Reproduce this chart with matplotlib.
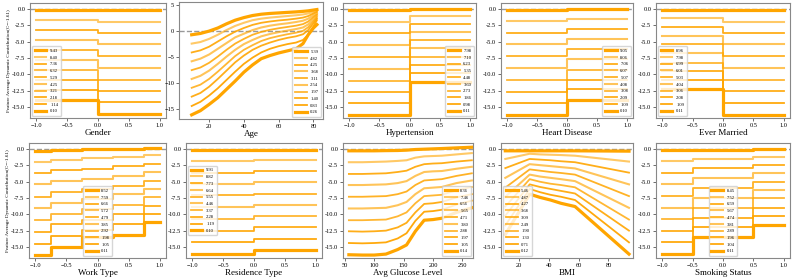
import matplotlib
matplotlib.use('Agg')
import matplotlib.pyplot as plt
from matplotlib.ticker import MultipleLocator, FormatStrFormatter

plt.rcParams['font.family'] = ['Liberation Serif', 'DejaVu Serif']

# ---------------- data ----------------
# step-type features: bin edges + one value per segment for each of 10 curves
gender_edges = [-1, 0, 1]
gender_lines = [[-0.1, -0.1], [-1.6, -1.9], [-3.2, -3.6], [-4.7, -5.4], [-6.3, -7.2],
                [-7.8, -9.0], [-9.3, -10.8], [-10.9, -12.5], [-12.4, -14.3], [-13.9, -16.1]]
gender_labels = ['9.43', '8.40', '7.36', '6.32', '5.29', '4.25', '3.21', '2.18', '1.14', '0.10']

age_x = [10, 15, 20, 25, 30, 35, 40, 45, 50, 55, 60, 65, 70, 74, 77, 80, 82]
age_lines = [
    [-0.8, -0.55, -0.1, 0.5, 1.3, 2.0, 2.5, 2.9, 3.15, 3.3, 3.4, 3.5, 3.6, 3.7, 3.8, 3.95, 4.05],
    [-2.5, -2.2, -1.6, -0.8, 0.1, 0.9, 1.5, 2.0, 2.3, 2.5, 2.65, 2.8, 2.95, 3.1, 3.3, 3.6, 3.8],
    [-4.2, -3.8, -3.1, -2.1, -1.1, -0.2, 0.5, 1.1, 1.5, 1.75, 1.95, 2.1, 2.3, 2.5, 2.8, 3.3, 3.6],
    [-5.9, -5.4, -4.6, -3.5, -2.4, -1.3, -0.6, 0.1, 0.6, 0.95, 1.2, 1.4, 1.65, 1.9, 2.3, 2.95, 3.35],
    [-7.6, -7.1, -6.2, -5.0, -3.7, -2.5, -1.6, -0.8, -0.25, 0.15, 0.45, 0.7, 0.95, 1.25, 1.75, 2.6, 3.1],
    [-9.3, -8.7, -7.7, -6.4, -5.0, -3.7, -2.6, -1.8, -1.1, -0.65, -0.3, 0.0, 0.3, 0.6, 1.2, 2.2, 2.85],
    [-11.0, -10.4, -9.3, -7.9, -6.4, -4.9, -3.7, -2.8, -2.0, -1.45, -1.05, -0.7, -0.4, -0.05, 0.65, 1.8, 2.6],
    [-12.7, -12.0, -10.8, -9.3, -7.7, -6.1, -4.8, -3.7, -2.9, -2.3, -1.8, -1.4, -1.1, -0.7, 0.1, 1.4, 2.3],
    [-14.5, -13.7, -12.5, -11.1, -9.5, -7.9, -6.4, -5.2, -4.2, -3.5, -3.0, -2.6, -2.3, -1.8, -0.8, 0.8, 2.0],
    [-16.2, -15.4, -14.2, -12.9, -11.3, -9.7, -8.0, -6.6, -5.4, -4.8, -4.3, -3.9, -3.5, -2.5, -0.8, 0.5, 1.15],
]
age_labels = ['5.39', '4.82', '4.25', '3.68', '3.11', '2.54', '1.97', '1.40', '0.83', '0.26']

hyper_edges = [-1, 0, 1]
hyper_lines = [[-0.2, 0.05], [-1.9, -1.0], [-3.7, -2.3], [-5.5, -3.5], [-7.3, -4.8],
               [-9.2, -6.0], [-11.0, -7.3], [-12.7, -8.5], [-14.4, -9.8], [-16.2, -11.1]]
hyper_labels = ['7.98', '7.10', '6.23', '5.35', '4.48', '3.60', '2.73', '1.86', '0.98', '0.11']

heart_edges = [-1, 0, 1]
heart_lines = [[-0.15, 0.1], [-1.8, -1.5], [-3.6, -3.0], [-5.4, -4.6], [-7.2, -6.1],
               [-9.0, -7.7], [-10.8, -9.3], [-12.7, -10.8], [-14.4, -12.3], [-16.2, -13.9]]
heart_labels = ['9.05', '8.06', '7.06', '6.07', '5.07', '4.08', '3.08', '2.09', '1.09', '0.10']

married_edges = [-1, 0, 1]
married_lines = [[-0.1, -0.2], [-1.4, -1.9], [-2.8, -3.6], [-4.1, -5.4], [-5.4, -7.2],
                 [-6.8, -9.0], [-8.2, -10.8], [-9.5, -12.6], [-10.8, -14.4], [-12.2, -16.2]]
married_labels = ['8.96', '7.98', '6.99', '6.01', '5.03', '4.04', '3.06', '2.08', '1.09', '0.11']

work_edges = [-1, -0.75, -0.25, 0.25, 0.75, 1]
work_lines = [
    [-0.25, -0.05, 0.0, 0.05, 0.2],
    [-1.9, -1.6, -1.4, -1.25, -0.9],
    [-3.6, -3.25, -3.0, -2.6, -2.2],
    [-5.4, -4.9, -4.55, -4.1, -3.5],
    [-7.3, -6.6, -6.1, -5.6, -4.9],
    [-9.1, -8.3, -7.7, -6.9, -6.1],
    [-10.9, -10.0, -9.25, -8.5, -7.4],
    [-12.65, -11.55, -10.8, -10.0, -8.7],
    [-14.5, -13.3, -12.4, -11.45, -10.0],
    [-16.25, -14.95, -13.5, -13.1, -11.1],
]
work_labels = ['8.52', '7.59', '6.66', '5.72', '4.79', '3.85', '2.92', '1.98', '1.05', '0.11']

resid_edges = [-1, 0, 1]
resid_lines = [[-0.1, -0.1], [-1.85, -1.65], [-3.6, -3.4], [-5.4, -5.1], [-7.1, -6.9],
               [-8.9, -8.6], [-10.7, -10.3], [-12.5, -12.0], [-14.3, -13.8], [-16.15, -15.5]]
resid_labels = ['9.91', '8.82', '7.73', '6.64', '5.55', '4.46', '3.37', '2.28', '1.19', '0.10']

gluc_x = [57, 80, 100, 120, 140, 155, 170, 185, 200, 215, 240, 266]
gluc_lines = [
    [-0.25, -0.25, -0.25, -0.22, -0.2, -0.15, -0.05, 0.0, 0.05, 0.1, 0.2, 0.3],
    [-2.0, -2.0, -1.95, -1.9, -1.8, -1.7, -1.3, -1.1, -1.05, -1.0, -0.8, -0.6],
    [-3.8, -3.8, -3.75, -3.7, -3.5, -3.3, -2.7, -2.3, -2.2, -2.15, -1.9, -1.7],
    [-5.5, -5.5, -5.45, -5.4, -5.2, -4.9, -4.1, -3.5, -3.4, -3.35, -3.0, -2.7],
    [-7.3, -7.3, -7.25, -7.2, -6.9, -6.5, -5.5, -4.8, -4.7, -4.6, -4.1, -3.7],
    [-9.1, -9.1, -9.05, -9.0, -8.6, -8.1, -6.9, -6.0, -5.9, -5.8, -5.2, -4.8],
    [-10.9, -10.9, -10.85, -10.8, -10.3, -9.7, -8.3, -7.2, -7.1, -7.0, -6.3, -5.8],
    [-12.6, -12.65, -12.6, -12.5, -12.0, -11.3, -9.7, -8.4, -8.3, -8.1, -7.4, -6.9],
    [-14.4, -14.45, -14.4, -14.3, -13.7, -12.9, -11.0, -9.6, -9.5, -9.3, -8.5, -7.9],
    [-16.2, -16.25, -16.25, -16.1, -15.4, -14.7, -12.6, -10.9, -10.8, -10.6, -9.7, -9.0],
]
gluc_labels = ['8.36', '7.46', '6.56', '5.65', '4.71', '3.80', '2.88', '1.97', '1.05', '0.14']

bmi_x = [10.6, 27, 34, 41, 48, 57.5, 93.8]
bmi_lines = [
    [-0.25, -0.25, -0.25, -0.25, -0.25, -0.25, -0.3],
    [-1.5, -0.7, -0.8, -0.85, -0.9, -1.0, -1.9],
    [-2.9, -1.5, -1.6, -1.7, -1.85, -2.0, -3.6],
    [-4.4, -2.3, -2.45, -2.6, -2.75, -2.95, -5.4],
    [-5.9, -3.1, -3.3, -3.5, -3.65, -3.9, -7.2],
    [-7.3, -3.9, -4.2, -4.4, -4.6, -4.9, -9.0],
    [-8.8, -4.6, -5.0, -5.3, -5.5, -5.85, -10.8],
    [-10.2, -5.4, -5.8, -6.1, -6.4, -6.8, -12.5],
    [-11.7, -6.1, -6.6, -7.0, -7.3, -7.8, -14.3],
    [-13.1, -6.9, -7.4, -7.8, -8.3, -8.8, -16.1],
]
bmi_labels = ['5.46', '4.87', '4.27', '3.68', '3.09', '2.49', '1.90', '1.30', '0.71', '0.12']

smoke_edges = [-1, -0.5, 0.5, 1]
smoke_lines = [
    [-0.15, -0.05, 0.1],
    [-1.8, -1.45, -1.15],
    [-3.6, -2.85, -2.45],
    [-5.4, -4.45, -3.7],
    [-7.15, -6.0, -5.05],
    [-8.95, -7.5, -6.3],
    [-10.75, -9.05, -7.55],
    [-12.5, -10.5, -8.95],
    [-14.3, -12.0, -10.2],
    [-16.1, -13.5, -11.6],
]
smoke_labels = ['8.45', '7.52', '6.59', '5.67', '4.74', '3.81', '2.89', '1.96', '1.04', '0.11']

# ---------------- styling ----------------
W, H = 793, 280
ORANGE = '#FFA500'
widths = [2.3, 1.5, 1.3, 1.5, 1.3, 1.5, 1.3, 1.3, 1.3, 2.3]
alphas = [1.0, 0.6, 0.9, 0.65, 0.85, 0.65, 0.8, 0.9, 0.95, 1.0]
ylab = 'Feature Average Dynamic Contribution(C=-1.61)'

fig = plt.figure(figsize=(W / 100, H / 100), dpi=100)


def make_ax(x0, x1, y0, y1):
    # pixel box -> figure fraction
    return fig.add_axes([x0 / W, 1 - y1 / H, (x1 - x0) / W, (y1 - y0) / H])


def style(ax, name, ylim, legend_loc, labels, first_col=False, int_y=False):
    ax.axhline(0, color='#999999', ls='--', lw=1.0, zorder=0)
    ax.set_ylim(*ylim)
    if int_y:
        ax.yaxis.set_major_locator(MultipleLocator(5))
    else:
        ax.yaxis.set_major_locator(MultipleLocator(2.5))
        ax.yaxis.set_major_formatter(FormatStrFormatter('%.1f'))
    ax.set_xlabel(name, fontsize=6.5, labelpad=1)
    if first_col:
        ax.set_ylabel(ylab, fontsize=3.7, labelpad=1)
    ax.tick_params(labelsize=4.6, length=2, width=0.5, pad=1.5, color='#333333')
    for s in ax.spines.values():
        s.set_color('#888888')
        s.set_linewidth(0.8)
    ax.legend(labels, loc=legend_loc, fontsize=3.3, handlelength=2.6,
              labelspacing=0.55, borderpad=0.5, handletextpad=0.8,
              framealpha=0.8, edgecolor='#cccccc', fancybox=True)


def draw_steps(ax, edges, lines):
    for i, vals in enumerate(lines):
        ax.plot(edges, list(vals) + [vals[-1]], drawstyle='steps-post',
                color=ORANGE, lw=widths[i], alpha=alphas[i])


def draw_curves(ax, xs, lines):
    for i, vals in enumerate(lines):
        ax.plot(xs, vals, color=ORANGE, lw=widths[i], alpha=alphas[i])


YL = (-16.7, 0.95)

# top row
ax = make_ax(30, 166, 3, 118)
draw_steps(ax, gender_edges, gender_lines)
ax.set_xlim(-1.1, 1.1)
style(ax, 'Gender', YL, 'lower left', gender_labels, first_col=True)

ax = make_ax(179, 323, 2, 119)
draw_curves(ax, age_x, age_lines)
ax.set_xlim(2.7, 85.5)
ax.xaxis.set_major_locator(MultipleLocator(20))
style(ax, 'Age', (-17.0, 5.5), 'lower right', age_labels, int_y=True)

ax = make_ax(343, 476, 3, 118)
draw_steps(ax, hyper_edges, hyper_lines)
ax.set_xlim(-1.1, 1.1)
style(ax, 'Hypertension', YL, 'lower right', hyper_labels)

ax = make_ax(501, 633, 3, 118)
draw_steps(ax, heart_edges, heart_lines)
ax.set_xlim(-1.1, 1.1)
style(ax, 'Heart Disease', YL, 'lower right', heart_labels)

ax = make_ax(656, 790, 3, 118)
draw_steps(ax, married_edges, married_lines)
ax.set_xlim(-1.1, 1.1)
style(ax, 'Ever Married', YL, 'lower left', married_labels)

# bottom row
ax = make_ax(29, 166, 143, 258)
draw_steps(ax, work_edges, work_lines)
ax.set_xlim(-1.1, 1.1)
style(ax, 'Work Type', YL, 'lower center', work_labels, first_col=True)

ax = make_ax(186, 322, 143, 258)
draw_steps(ax, resid_edges, resid_lines)
ax.set_xlim(-1.1, 1.1)
style(ax, 'Residence Type', YL, 'center left', resid_labels)

ax = make_ax(343, 473, 143, 258)
draw_curves(ax, gluc_x, gluc_lines)
ax.set_xlim(47, 268)
ax.xaxis.set_major_locator(MultipleLocator(50))
style(ax, 'Avg Glucose Level', YL, 'lower right', gluc_labels)

ax = make_ax(501, 633, 143, 258)
draw_curves(ax, bmi_x, bmi_lines)
ax.set_xlim(7.7, 96.5)
ax.xaxis.set_major_locator(MultipleLocator(20))
style(ax, 'BMI', YL, 'lower left', bmi_labels)

ax = make_ax(656, 790, 143, 258)
draw_steps(ax, smoke_edges, smoke_lines)
ax.set_xlim(-1.1, 1.1)
style(ax, 'Smoking Status', YL, 'lower center', smoke_labels)

fig.savefig('out.png', dpi=100)
